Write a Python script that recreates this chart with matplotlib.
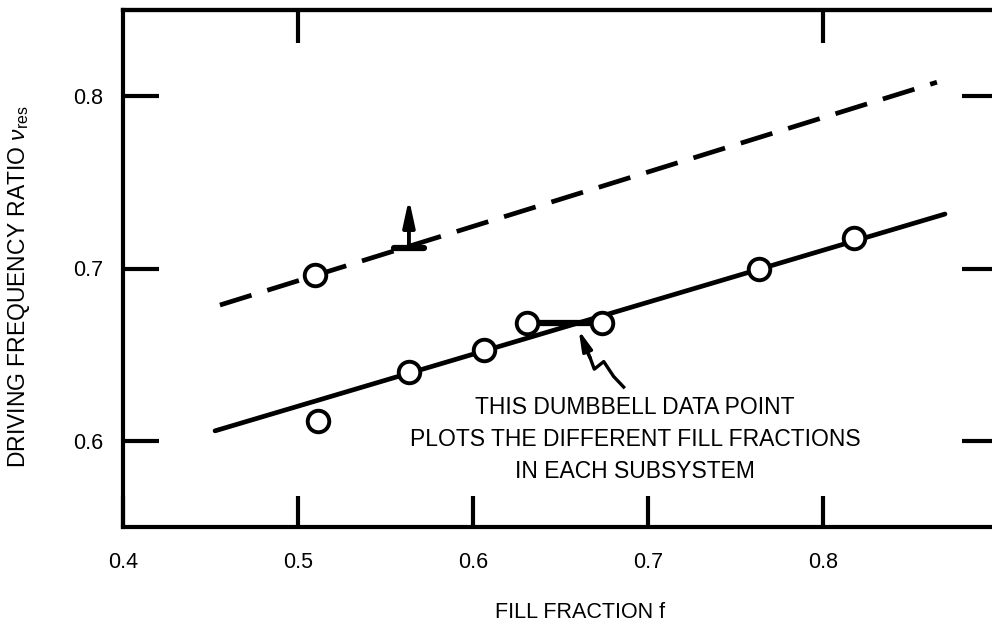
import numpy as np
import matplotlib
matplotlib.use("Agg")
import matplotlib.pyplot as plt

plt.rcParams['font.family'] = ['Liberation Sans', 'DejaVu Sans']
plt.rcParams['mathtext.fontset'] = 'custom'
plt.rcParams['mathtext.rm'] = 'Liberation Sans'
plt.rcParams['mathtext.it'] = 'Liberation Sans:italic'

# measured points (fill fraction, driving frequency ratio)
solid_f = [0.5633, 0.6061, 0.7633, 0.8175]
solid_nu = [0.6402, 0.6528, 0.6998, 0.7177]
outlier_f = [0.5114]
outlier_nu = [0.6116]
dumbbell_f = [0.6309, 0.6737]
dumbbell_nu = [0.6685, 0.6685]
dashed_pt_f = [0.5097]
dashed_pt_nu = [0.6962]

# fitted lines (end points)
solid_line_f = [0.4526, 0.8697]
solid_line_nu = [0.6058, 0.7316]
dashed_line_f = [0.4554, 0.8651]
dashed_line_nu = [0.6788, 0.8081]

# lower-bound arrow marker
bound_f = 0.5634
bound_nu = 0.7119
bound_tip = 0.7405

# squiggly annotation arrow
squig_f = [0.6633, 0.6670, 0.6693, 0.6747, 0.6804, 0.6861]
squig_nu = [0.6557, 0.6480, 0.6416, 0.6460, 0.6373, 0.6312]
arrow_tip = (0.6604, 0.6643)

note = "THIS DUMBBELL DATA POINT\nPLOTS THE DIFFERENT FILL FRACTIONS\nIN EACH SUBSYSTEM"

xticks = [0.4, 0.5, 0.6, 0.7, 0.8]
top_ticks = [0.5, 0.8]
yticks = [0.6, 0.7, 0.8]

fig = plt.figure(figsize=(9.92, 6.26), dpi=100)
ax = fig.add_axes([123/992, 99/626, 875/992, 517/626])

ax.plot(solid_line_f, solid_line_nu, color='k', lw=3.4, solid_capstyle='round', zorder=2)
ax.plot(dashed_line_f, dashed_line_nu, color='k', lw=3.4, dashes=(7, 3.5), zorder=2)

# dumbbell connector
ax.plot(dumbbell_f, dumbbell_nu, color='k', lw=4.5, zorder=3)

mk = dict(marker='o', ms=15.5, mfc='white', mec='k', mew=2.8, ls='none', zorder=4)
ax.plot(solid_f, solid_nu, **mk)
ax.plot(outlier_f, outlier_nu, **mk)
ax.plot(dumbbell_f, dumbbell_nu, **mk)
ax.plot(dashed_pt_f, dashed_pt_nu, **mk)

# lower bound marker
ax.plot([bound_f - 0.0085, bound_f + 0.0085], [bound_nu, bound_nu], color='k', lw=4.5,
        solid_capstyle='round')
ax.annotate('', xy=(bound_f, bound_tip), xytext=(bound_f, bound_nu),
            arrowprops=dict(arrowstyle='-|>,head_length=1.6,head_width=0.35',
                            lw=2.8, color='k', shrinkA=0, shrinkB=0))

# squiggle pointing at the dumbbell
ax.plot(squig_f, squig_nu, color='k', lw=2.4)
ax.annotate('', xy=arrow_tip, xytext=(squig_f[1], squig_nu[1]),
            arrowprops=dict(arrowstyle='-|>,head_length=1.2,head_width=0.3',
                            lw=2.4, color='k', shrinkA=0, shrinkB=0))

ax.text(0.6926, 0.6006, note, ha='center', va='center', multialignment='center',
        fontsize=16.5, linespacing=1.5)

ax.set_xlim(0.4, 0.9)
ax.set_ylim(0.55, 0.85)
ax.set_xticks(xticks)
ax.set_xticklabels([f'{t:.1f}' for t in xticks])
ax.set_yticks(yticks)
ax.set_yticklabels([f'{t:.1f}' for t in yticks])

for s in ax.spines.values():
    s.set_linewidth(3)
ax.tick_params(axis='x', direction='in', length=22, width=3,
               labelsize=15.5, pad=18)
ax.tick_params(axis='y', direction='in', length=26, width=3, right=True,
               labelsize=15.5, pad=14)

top = ax.secondary_xaxis('top')
top.set_xticks(top_ticks)
top.tick_params(direction='in', length=24, width=3, labeltop=False)
top.spines['top'].set_linewidth(3)

ax.set_xlabel('FILL FRACTION f', fontsize=15.5)
ax.xaxis.set_label_coords(0.522, -0.145)
ax.set_ylabel(r'DRIVING FREQUENCY RATIO $\nu_{\rm res}$', fontsize=16.5)
ax.yaxis.set_label_coords(-0.104, 0.465)

fig.savefig('out.png', dpi=100)
